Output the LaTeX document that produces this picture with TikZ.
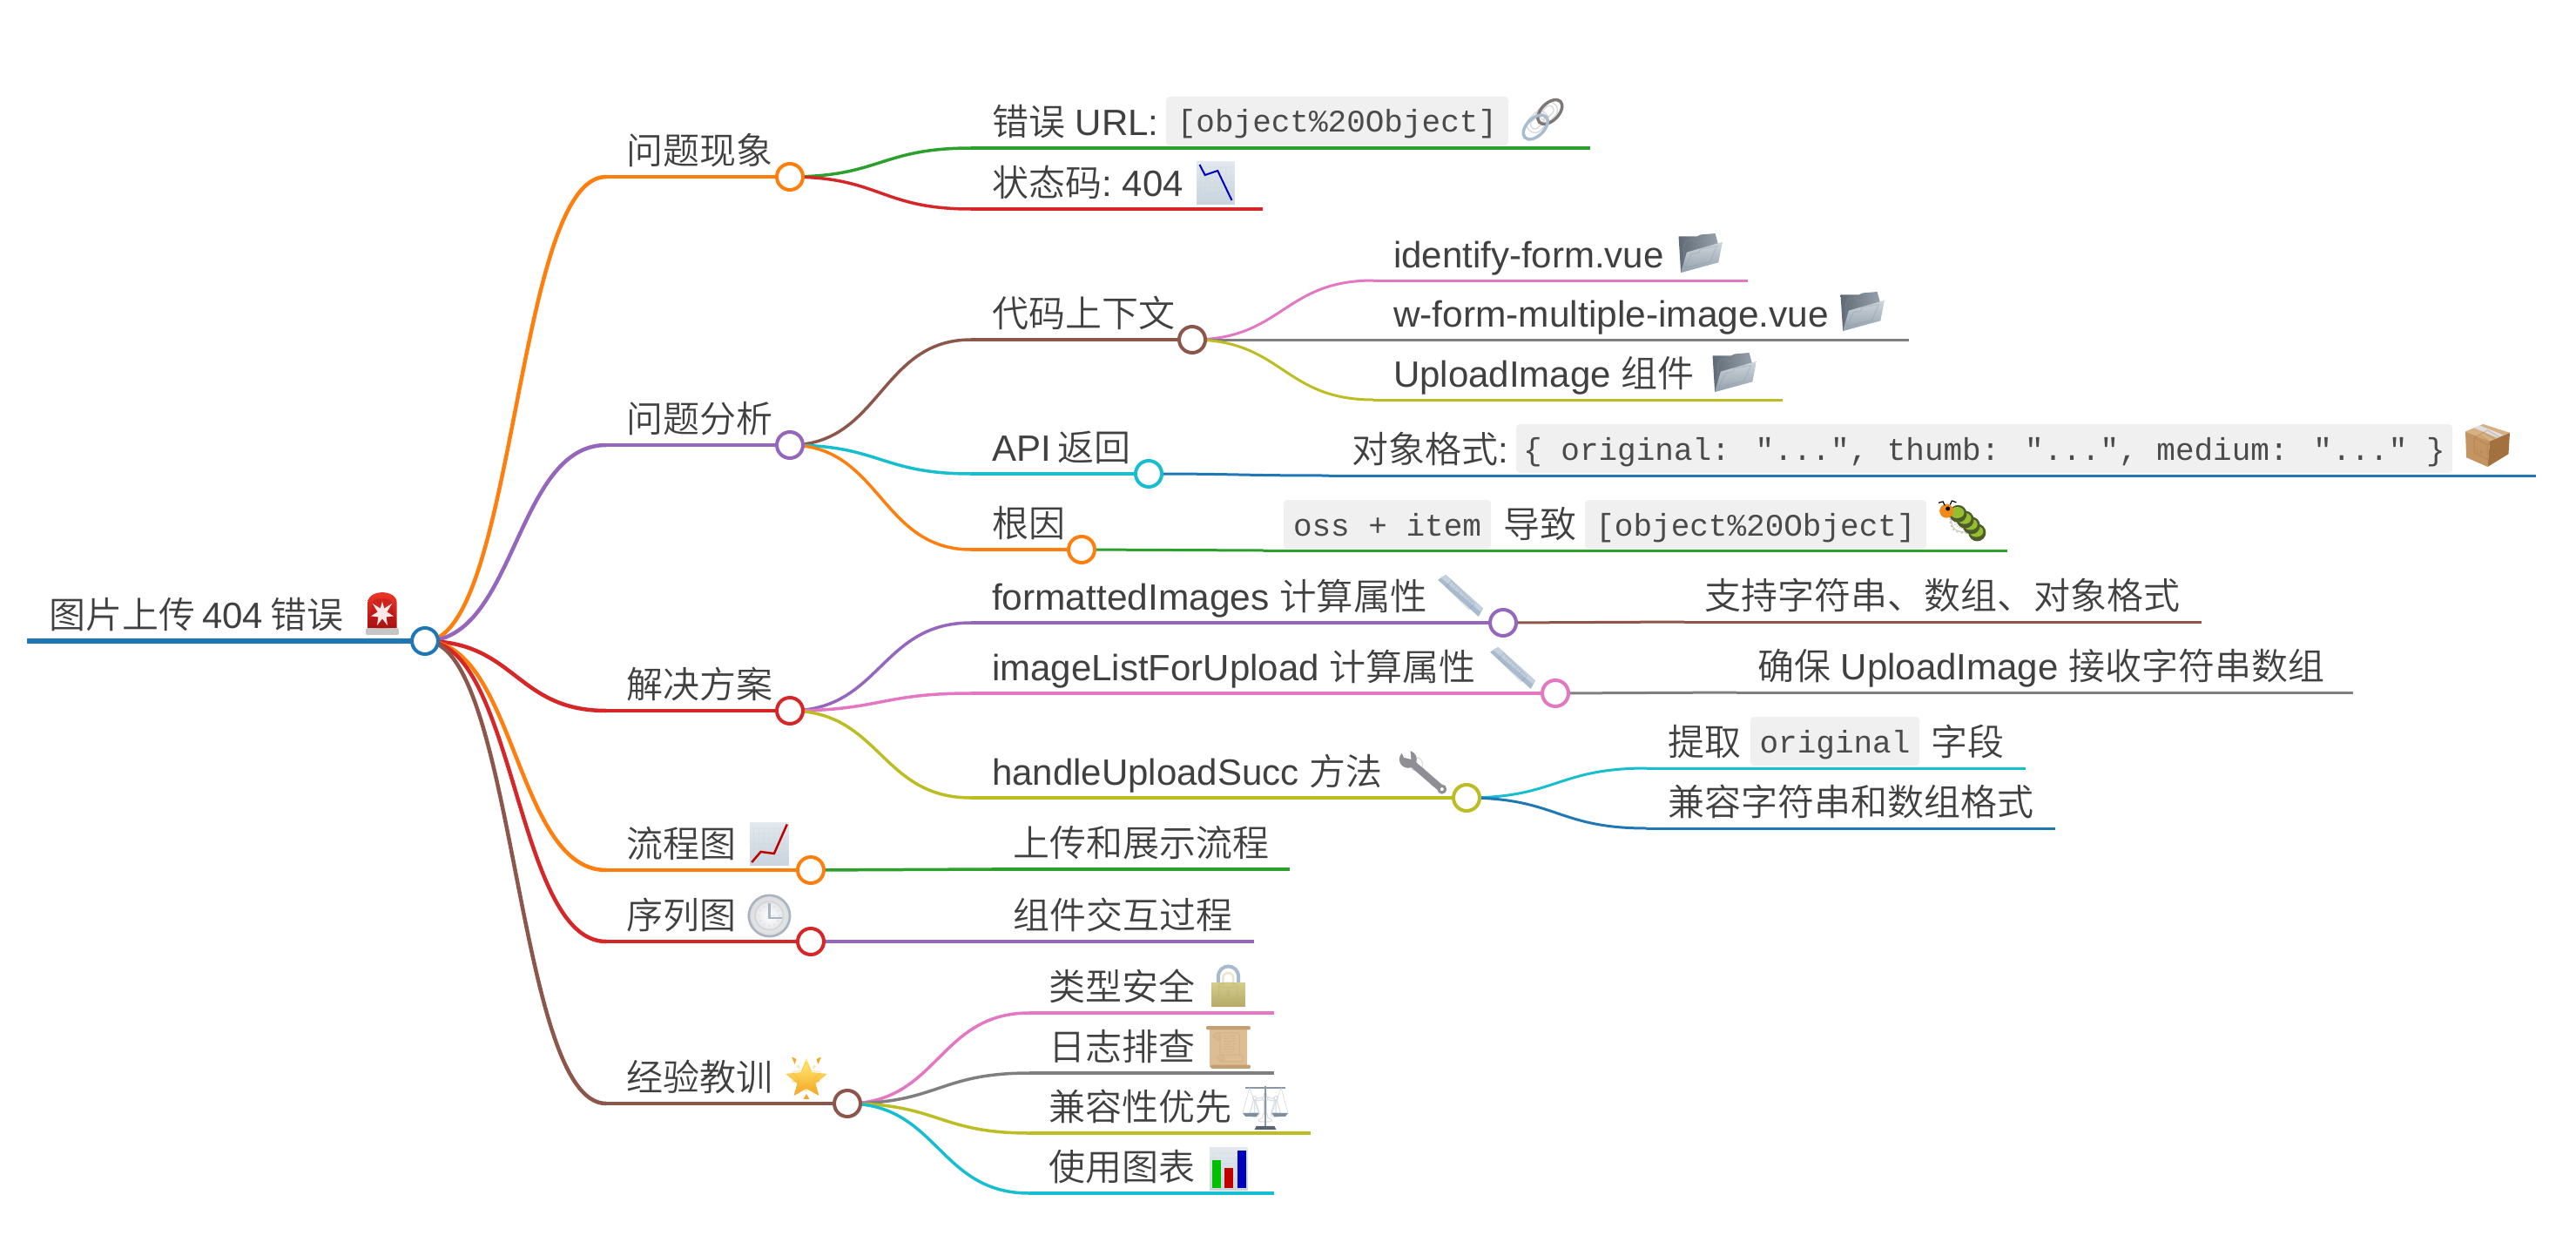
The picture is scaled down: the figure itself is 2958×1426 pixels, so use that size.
\documentclass[tikz,border=0pt]{standalone}
\usepackage{fontspec}
\usepackage{graphicx}
\usetikzlibrary{calc}
\setmainfont{Liberation Sans}
\newfontfamily\cjk{Noto Sans CJK SC DemiLight}
\newfontfamily\mono{Liberation Mono}
\newfontfamily\emo{Noto Emoji}
\newcommand{\zh}[1]{{\cjk #1}}
\definecolor{cblue}{HTML}{1F77B4}
\definecolor{corange}{HTML}{FF7F0E}
\definecolor{cgreen}{HTML}{2CA02C}
\definecolor{cred}{HTML}{D62728}
\definecolor{cpurple}{HTML}{9467BD}
\definecolor{cbrown}{HTML}{8C564B}
\definecolor{cpink}{HTML}{E377C2}
\definecolor{cgray}{HTML}{7F7F7F}
\definecolor{colive}{HTML}{BCBD22}
\definecolor{ccyan}{HTML}{17BECF}
\definecolor{ink}{HTML}{404040}
\definecolor{codebg}{HTML}{F0F0F0}
\definecolor{codeink}{HTML}{4A4A4A}
\definecolor{steel}{HTML}{8A97A5}
\definecolor{steell}{HTML}{CFD6DC}
\definecolor{steelm}{HTML}{93A0AC}
\definecolor{rulerd}{HTML}{A7BACE}
\definecolor{rulerl}{HTML}{C4D2DF}
\definecolor{chartt}{HTML}{E3E9EE}
\definecolor{chartb}{HTML}{C9D4DD}
\definecolor{boxl}{HTML}{C59463}
\definecolor{boxr}{HTML}{A3703F}
\definecolor{boxt}{HTML}{D6B083}
\definecolor{catg}{HTML}{94BF2E}
\definecolor{catd}{HTML}{4F5B2A}
\definecolor{cato}{HTML}{F08A1D}
\definecolor{wren}{HTML}{8E8E94}
\definecolor{ringa}{HTML}{A8BCCF}
\definecolor{ringb}{HTML}{7D7878}
\definecolor{clockr}{HTML}{A8B4C4}
\definecolor{locka}{HTML}{D4CB8C}
\definecolor{lockb}{HTML}{B5AA66}
\definecolor{scra}{HTML}{DDBD94}
\definecolor{scrb}{HTML}{C49F72}
\definecolor{pand}{HTML}{7F8FA0}
\definecolor{stara}{HTML}{FFF07A}
\definecolor{starb}{HTML}{F5A623}
\definecolor{sira}{HTML}{F53A2A}
\definecolor{sirb}{HTML}{A80F0F}
\pgfdeclarelayer{bg}
\pgfsetlayers{bg,main}
\newcommand{\lk}[4]{\draw[#1,#2] let \p1=(#3),\p2=(#4) in (\p1) .. controls ({0.5*\x1+0.5*\x2},\y1) and ({0.5*\x1+0.5*\x2},\y2) .. (\p2);}
\newcommand{\nsp}{\hspace{-3.5pt}}
\tikzset{
  dot/.style={circle,draw=#1,fill=white,line width=4pt,minimum size=30pt,inner sep=0pt,outer sep=0pt},
  d0/.style={line width=6pt},
  d1/.style={line width=4.5pt},
  d2/.style={line width=3.5pt},
  d3/.style={line width=3pt},
  lab/.style={anchor=base west,inner sep=0pt,outer sep=0pt,text=ink,font=\fontsize{42}{42}\selectfont},
  code/.style={fill=codebg,rounded corners=4pt,anchor=north west,inner sep=0pt,outer sep=0pt,minimum height=56pt,minimum width=#1,text height=33pt,text depth=7pt,text=codeink,font=\mono\fontsize{36}{36}\selectfont},
  ib/.style n args={4}{shift={(#1,#2)},x=#3*0.01pt,y=-#4*0.01pt},
  gl/.style n args={2}{inner sep=0pt,text=#1,text opacity=0.3,font=\emo\fontsize{#2}{#2}\selectfont},
}
\begin{document}
\begin{tikzpicture}[x=1pt,y=-1pt,line cap=butt]
\useasboundingbox (0,0) rectangle (2958,1426);
% ---------- hub nodes
\node[dot=cblue] (root) at (488,736) {};
\node[dot=corange] (n1) at (907,203) {};
\node[dot=cpurple] (n2) at (907,511) {};
\node[dot=cred] (n3) at (907,816) {};
\node[dot=corange] (n4) at (931,999) {};
\node[dot=cred] (n5) at (931,1081) {};
\node[dot=cbrown] (n6) at (973,1267) {};
\node[dot=cbrown] (n21) at (1369,390) {};
\node[dot=ccyan] (n22) at (1319,544) {};
\node[dot=corange] (n23) at (1242,631) {};
\node[dot=cpurple] (n31) at (1726,715) {};
\node[dot=cpink] (n32) at (1786,796) {};
\node[dot=colive] (n33) at (1684,916) {};
% ---------- free ends
\foreach \nm/\x/\y in {r0/31/736,
  a1/696/203,a2/696/511,a3/696/816,a4/696/999,a5/696/1081,a6/696/1267,
  b11/1115/170,e11/1826/170,b12/1115/240,e12/1450/240,
  b21/1115/390,b22/1115/544,b23/1115/631,
  c1/1577/322,f1/2007/322,c2/1577/390,f2/2192/390,c3/1577/459,f3/2047/459,
  c4/1526/546,f4/2912/546,c5/1451/632,f5/2305/632,
  b31/1115/715,b32/1115/796,b33/1115/916,
  c6/1934/714,f6/2528/714,c7/1994/795,f7/2702/795,
  c8/1891/882,f8/2326/882,c9/1891/951,f9/2360/951,
  c10/1139/998,f10/1481/998,c11/1139/1081,f11/1440/1081,
  c12/1182/1163,f12/1463/1163,c13/1182/1232,f13/1463/1232,
  c14/1182/1301,f14/1505/1301,c15/1182/1370,f15/1463/1370}{\coordinate (\nm) at (\x,\y);}
\begin{pgfonlayer}{bg}
% ---------- connectors: root level
\draw[d0,cblue] (r0) -- (root.center);
\lk{d1}{corange}{root.center}{a1} \draw[d1,corange] (a1) -- (n1.center);
\lk{d1}{cpurple}{root.center}{a2} \draw[d1,cpurple] (a2) -- (n2.center);
\lk{d1}{cred}{root.center}{a3} \draw[d1,cred] (a3) -- (n3.center);
\lk{d1}{corange}{root.center}{a4} \draw[d1,corange] (a4) -- (n4.center);
\lk{d1}{cred}{root.center}{a5} \draw[d1,cred] (a5) -- (n5.center);
\lk{d1}{cbrown}{root.center}{a6} \draw[d1,cbrown] (a6) -- (n6.center);
% level 2
\lk{d2}{cgreen}{n1.center}{b11} \draw[d2,cgreen] (b11) -- (e11);
\lk{d2}{cred}{n1.center}{b12} \draw[d2,cred] (b12) -- (e12);
\lk{d2}{cbrown}{n2.center}{b21} \draw[d2,cbrown] (b21) -- (n21.center);
\lk{d2}{ccyan}{n2.center}{b22} \draw[d2,ccyan] (b22) -- (n22.center);
\lk{d2}{corange}{n2.center}{b23} \draw[d2,corange] (b23) -- (n23.center);
\lk{d2}{cpurple}{n3.center}{b31} \draw[d2,cpurple] (b31) -- (n31.center);
\lk{d2}{cpink}{n3.center}{b32} \draw[d2,cpink] (b32) -- (n32.center);
\lk{d2}{colive}{n3.center}{b33} \draw[d2,colive] (b33) -- (n33.center);
\lk{d2}{cgreen}{n4.center}{c10} \draw[d2,cgreen] (c10) -- (f10);
\lk{d2}{cpurple}{n5.center}{c11} \draw[d2,cpurple] (c11) -- (f11);
\lk{d2}{cpink}{n6.center}{c12} \draw[d2,cpink] (c12) -- (f12);
\lk{d2}{cgray}{n6.center}{c13} \draw[d2,cgray] (c13) -- (f13);
\lk{d2}{colive}{n6.center}{c14} \draw[d2,colive] (c14) -- (f14);
\lk{d2}{ccyan}{n6.center}{c15} \draw[d2,ccyan] (c15) -- (f15);
% level 3
\lk{d3}{cpink}{n21.center}{c1} \draw[d3,cpink] (c1) -- (f1);
\lk{d3}{cgray}{n21.center}{c2} \draw[d3,cgray] (c2) -- (f2);
\lk{d3}{colive}{n21.center}{c3} \draw[d3,colive] (c3) -- (f3);
\lk{d3}{cblue}{n22.center}{c4} \draw[d3,cblue] (c4) -- (f4);
\lk{d3}{cgreen}{n23.center}{c5} \draw[d3,cgreen] (c5) -- (f5);
\lk{d3}{cbrown}{n31.center}{c6} \draw[d3,cbrown] (c6) -- (f6);
\lk{d3}{cgray}{n32.center}{c7} \draw[d3,cgray] (c7) -- (f7);
\lk{d3}{ccyan}{n33.center}{c8} \draw[d3,ccyan] (c8) -- (f8);
\lk{d3}{cblue}{n33.center}{c9} \draw[d3,cblue] (c9) -- (f9);
\end{pgfonlayer}
% ---------- labels
\node[lab] (t0) at (56,721) {\zh{图片上传}\nsp{} 404\nsp{} \zh{错误}};
\node[lab] (t1) at (719,188) {\zh{问题现象}};
\node[lab] (t2) at (719,496) {\zh{问题分析}};
\node[lab] (t3) at (719,801) {\zh{解决方案}};
\node[lab] (t4) at (719,984) {\zh{流程图}};
\node[lab] (t5) at (719,1066) {\zh{序列图}};
\node[lab] (t6) at (719,1252) {\zh{经验教训}};
\node[lab] (t11) at (1139,155) {\zh{错误} URL:};
\node[code=393pt] (k1) at (1339,111) {[object\%20Object]};
\node[lab] (t12) at (1139,225) {\zh{状态码}:\nsp{} 404};
\node[lab] (t21) at (1139,375) {\zh{代码上下文}};
\node[lab] (t211) at (1600,307) {identify-form.vue};
\node[lab] (t212) at (1600,375) {\scalebox{1.011}[1]{w-form-multiple-image.vue}};
\node[lab] (t213) at (1600,444) {UploadImage \zh{组件}};
\node[lab] (t22) at (1139,529) {API\nsp{} \zh{返回}};
\node[lab] (t221) at (1552,531) {\zh{对象格式}:};
\node[code=1075pt] (k2) at (1741,487) {\{ original: "...", thumb: "...", medium: "..." \}};
\node[lab] (t23) at (1139,616) {\zh{根因}};
\node[code=238pt] (k3) at (1474,574) {oss + item};
\node[lab] (t231) at (1726,617) {\zh{导致}};
\node[code=392pt] (k4) at (1820,574) {[object\%20Object]};
\node[lab] (t31) at (1139,700) {\scalebox{1.011}[1]{formattedImages \zh{计算属性}}};
\node[lab] (t311) at (1957,699) {\zh{支持字符串、数组、对象格式}};
\node[lab] (t32) at (1139,781) {imageListForUpload \zh{计算属性}};
\node[lab] (t321) at (2018,780) {\zh{确保} UploadImage \zh{接收字符串数组}};
\node[lab] (t33) at (1139,901) {handleUploadSucc \zh{方法}};
\node[lab] (t331a) at (1915,867) {\zh{提取}};
\node[code=194pt] (k5) at (2010,823) {original};
\node[lab] (t331b) at (2217,867) {\zh{字段}};
\node[lab] (t332) at (1915,936) {\zh{兼容字符串和数组格式}};
\node[lab] (t41) at (1163,983) {\zh{上传和展示流程}};
\node[lab] (t51) at (1163,1066) {\zh{组件交互过程}};
\node[lab] (t61) at (1204,1148) {\zh{类型安全}};
\node[lab] (t62) at (1204,1217) {\zh{日志排查}};
\node[lab] (t63) at (1204,1286) {\zh{兼容性优先}};
\node[lab] (t64) at (1204,1355) {\zh{使用图表}};
% ---------- emoji
% siren
\begin{scope}[ib={420}{680}{38}{49}]
 \path[top color=sira,bottom color=sirb] (6,86)--(6,25) .. controls (6,-8) and (94,-8) .. (94,25)--(94,86)--cycle;
 \fill[gray!45,rounded corners=2pt] (0,84) rectangle (100,100);
 \node[gl={sirb}{34}] (e0) at (50,50) {🚨};
 \fill[white,opacity=0.9] (50,22)--(56,38)--(80,26)--(64,46)--(84,56)--(62,58)--(66,78)--(50,62)--(34,78)--(38,58)--(16,56)--(36,46)--(20,26)--(44,38)--cycle;
\end{scope}
% link
\begin{scope}[ib={1745}{110}{52}{50}]
 \node[gl={ringb}{36}] (e1) at (50,50) {🔗};
 \draw[line width=3.5pt,ringb,shift={(67,37)},rotate=45] (0,0) ellipse (17pt and 10pt);
 \draw[line width=3.5pt,ringa,shift={(35,72)},rotate=45] (0,0) ellipse (17pt and 10pt);
\end{scope}
% chart down
\begin{scope}[ib={1374}{185}{44}{50}]
 \path[top color=chartt,bottom color=chartb] (0,0) rectangle (100,100);
 \node[gl={chartb}{36}] (e2) at (50,50) {📉};
 \draw[line width=2pt,color=blue!75!black] (8,8)--(22,32)--(55,22)--(92,90);
\end{scope}
% folders
\foreach \nm/\x/\y in {e3/1927/268,e4/2113/335,e5/1966/405}{
 \begin{scope}[ib={\x}{\y}{52}{47}]
  \path[left color=steel!70!black,right color=steel!90] (1,7)--(6,96)--(88,25)--(82,0)--(50,3)--(42,7)--cycle;
  \path[top color=steell,bottom color=steelm] (6,96)--(19,46)--(98,21)--(89,71)--cycle;
  \node[gl={steel}{34}] (\nm) at (50,50) {📂};
 \end{scope}}
% package
\begin{scope}[ib={2831}{487}{51}{49}]
 \fill[boxl] (0,17)--(55,40)--(50,100)--(2,78)--cycle;
 \fill[boxr] (55,40)--(100,20)--(97,70)--(50,100)--cycle;
 \fill[boxt] (0,17)--(40,0)--(100,20)--(55,40)--cycle;
 \fill[gray!25] (18,8)--(32,3)--(85,25)--(72,32)--cycle;
 \node[gl={boxr}{34}] (e6) at (50,50) {📦};
\end{scope}
% caterpillar
\begin{scope}[ib={2226}{575}{51}{45}]
 \node[gl={catd}{32}] (e7) at (50,50) {🐛};
 \foreach \cx/\cy in {87/81,74/63,60/48,44/33}{
  \fill[catd] (\cx,\cy) circle (10pt);
  \fill[catg] (\cx-2,\cy-3) ellipse (8pt and 6.5pt);}
 \fill[cato] (18,26) circle (8pt);
 \fill[black] (21,20) circle (2.5pt);
 \draw[line width=1.2pt,black] (14,12)--(10,2)--(0,5) (26,10)--(30,0)--(40,4);
\end{scope}
% rulers
\foreach \nm/\x/\y in {e8/1651/660,e9/1711/743}{
 \begin{scope}[ib={\x}{\y}{52}{48}]
  \fill[rulerd] (0,12)--(18,0)--(100,80)--(90,100)--cycle;
  \fill[rulerl] (6,6)--(18,0)--(100,80)--(94,88)--cycle;
  \node[gl={steel}{34}] (\nm) at (50,50) {📏};
 \end{scope}}
% wrench
\begin{scope}[ib={1609}{862}{52}{49}]
 \draw[line width=8pt,wren] (20,26)--(90,90);
 \fill[wren] (15,20) circle (10pt);
 \fill[white] (-2,-2)--(20,-2)--(22,20)--(6,16)--cycle;
 \fill[wren] (90,90) circle (5.5pt);
 \fill[white] (90,90) circle (2pt);
 \node[gl={wren}{34}] (e10) at (50,50) {🔧};
\end{scope}
% chart up
\begin{scope}[ib={861}{944}{45}{50}]
 \path[top color=chartt,bottom color=chartb] (0,0) rectangle (100,100);
 \node[gl={chartb}{36}] (e11) at (50,50) {📈};
 \draw[line width=2.5pt,color=red!75!black] (5,92)--(28,68)--(62,72)--(95,5);
\end{scope}
% clock
\begin{scope}[ib={858}{1027}{51}{49}]
 \path[inner color=white,outer color=gray!30] (50,50) circle (25pt);
 \draw[line width=2.5pt,clockr] (50,50) circle (23.5pt);
 \node[gl={clockr}{34}] (e12) at (50,50) {🕒};
 \draw[line width=2.5pt,clockr] (50,20)--(50,55)--(78,55);
\end{scope}
% star
\begin{scope}[ib={902}{1212}{48}{50}]
 \path[top color=stara,bottom color=starb] (50,5)--(63,38)--(100,42)--(72,64)--(80,92)--(50,76)--(20,92)--(28,64)--(0,42)--(37,38)--cycle;
 \fill[starb] (15,3)--(26,8)--(22,20)--cycle (85,3)--(74,8)--(78,20)--cycle (50,88)--(57,100)--(43,100)--cycle;
 \node[gl={starb}{34}] (e13) at (50,50) {🌟};
\end{scope}
% lock
\begin{scope}[ib={1391}{1109}{39}{47}]
 \draw[line width=4pt,rulerd] (20,45)--(20,28) .. controls (20,-8) and (80,-8) .. (80,28)--(80,45);
 \path[top color=locka,bottom color=lockb] (0,42) rectangle (100,100);
 \node[gl={lockb}{32}] (e14) at (50,50) {🔒};
\end{scope}
% scroll
\begin{scope}[ib={1385}{1178}{51}{49}]
 \fill[scra] (8,5) rectangle (92,95);
 \fill[scrb,rounded corners=2pt] (0,0) rectangle (100,9);
 \fill[scrb,rounded corners=2pt] (10,91) rectangle (100,100);
 \node[gl={scrb}{34}] (e15) at (50,50) {📜};
\end{scope}
% scales
\begin{scope}[ib={1427}{1247}{52}{50}]
 \node[gl={steel}{34}] (e16) at (50,50) {⚖};
 \draw[line width=2pt,steel] (50,0)--(50,92);
 \draw[line width=1.5pt,steel] (5,4)--(95,4);
 \draw[line width=0.6pt,steell] (15,4)--(0,62) (15,4)--(36,62) (85,4)--(64,62) (85,4)--(100,62);
 \fill[pand] (0,62)--(36,62)--(30,70)--(6,70)--cycle (64,62)--(100,62)--(94,70)--(70,70)--cycle;
 \fill[pand!70!black] (26,100)--(30,92)--(70,92)--(74,100)--cycle;
\end{scope}
% bars
\begin{scope}[ib={1389}{1317}{44}{50}]
 \path[top color=chartt,bottom color=chartb] (0,0) rectangle (100,100);
 \node[gl={chartb}{36}] (e17) at (50,50) {📊};
 \fill[green!75!black] (6,30) rectangle (30,95);
 \fill[red!75!black] (38,48) rectangle (62,95);
 \fill[blue!75!black] (72,8) rectangle (96,95);
\end{scope}
\end{tikzpicture}
\end{document}
